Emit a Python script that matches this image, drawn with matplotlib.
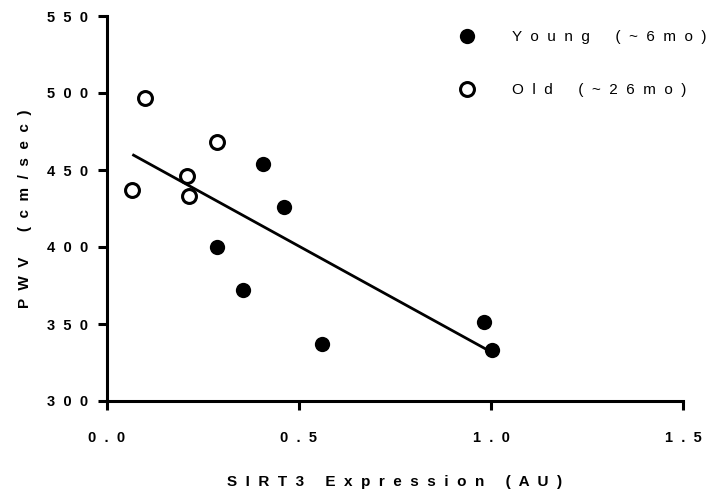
import numpy as np
import matplotlib
matplotlib.use("Agg")
import matplotlib.pyplot as plt
from matplotlib.ticker import FixedLocator, FuncFormatter

# values
young_x = [0.286, 0.353, 0.405, 0.461, 0.559, 0.983, 1.002]
young_y = [400, 372, 454, 426, 337, 351, 333]
old_x = [0.066, 0.099, 0.209, 0.214, 0.286]
old_y = [437, 497, 446, 433, 468]

x_ticks = [0.0, 0.5, 1.0, 1.5]
y_ticks = [300, 350, 400, 450, 500, 550]

x_title = "SIRT3 Expression (AU)"
y_title = "PWV (cm/sec)"
young_label = "Young (~6mo)"
old_label = "Old (~26mo)"


def spaced(text, gap=2, word=5):
    # prism style letter spacing
    words = text.split(" ")
    return (" " * word).join((" " * gap).join(w) for w in words)


def main():
    plt.rcParams["font.family"] = ["Liberation Sans", "DejaVu Sans"]

    fig = plt.figure(figsize=(7.22, 4.96), dpi=100)
    ax = fig.add_axes([107 / 722, 95 / 496, 576 / 722, 385 / 496])

    # regression line over all points
    all_x = np.array(young_x + old_x)
    all_y = np.array(young_y + old_y)
    slope, intercept = np.polyfit(all_x, all_y, 1)
    line_x = np.array([all_x.min(), all_x.max()])
    ax.plot(line_x, slope * line_x + intercept, color="black", lw=2.0, zorder=2,
            solid_capstyle="butt")

    ax.plot(young_x, young_y, "o", ms=11, mfc="black", mec="black", mew=0,
            ls="none", zorder=3, label=spaced(young_label, 2, 6))
    ax.plot(old_x, old_y, "o", ms=10, mfc="white", mec="black", mew=2.2,
            ls="none", zorder=3, label=spaced(old_label, 2, 6))

    ax.set_xlim(0, 1.5)
    ax.set_ylim(300, 550)

    ax.xaxis.set_major_locator(FixedLocator(x_ticks))
    ax.yaxis.set_major_locator(FixedLocator(y_ticks))
    ax.xaxis.set_major_formatter(FuncFormatter(lambda v, p: spaced(f"{v:.1f}", 2)))
    ax.yaxis.set_major_formatter(FuncFormatter(lambda v, p: spaced(f"{v:.0f}", 2)))

    for side in ["top", "right"]:
        ax.spines[side].set_visible(False)
    for side in ["left", "bottom"]:
        ax.spines[side].set_linewidth(2.2)

    ax.tick_params(axis="both", direction="out", length=6.5, width=2.2,
                   labelsize=10.5, color="black")
    ax.tick_params(axis="x", pad=15)
    ax.tick_params(axis="y", pad=7)
    for lab in ax.get_xticklabels() + ax.get_yticklabels():
        lab.set_fontweight("bold")

    ax.set_xlabel(spaced(x_title, 2, 5), fontsize=11, fontweight="bold")
    ax.xaxis.set_label_coords(0.5, -0.2104)
    ax.xaxis.label.set_va("center")
    ax.set_ylabel(spaced(y_title, 2, 6), fontsize=11, fontweight="bold")
    ax.yaxis.set_label_coords(-0.1424, 0.5)
    ax.yaxis.label.set_va("center")

    ax.legend(loc="upper left", bbox_to_anchor=(459 / 722, 1 - 30 / 496),
              bbox_transform=fig.transFigure, frameon=False, fontsize=11,
              handlelength=1.0, handletextpad=2.5, labelspacing=2.55,
              borderpad=0, borderaxespad=0)

    fig.savefig("out.png", dpi=100)


if __name__ == "__main__":
    main()
